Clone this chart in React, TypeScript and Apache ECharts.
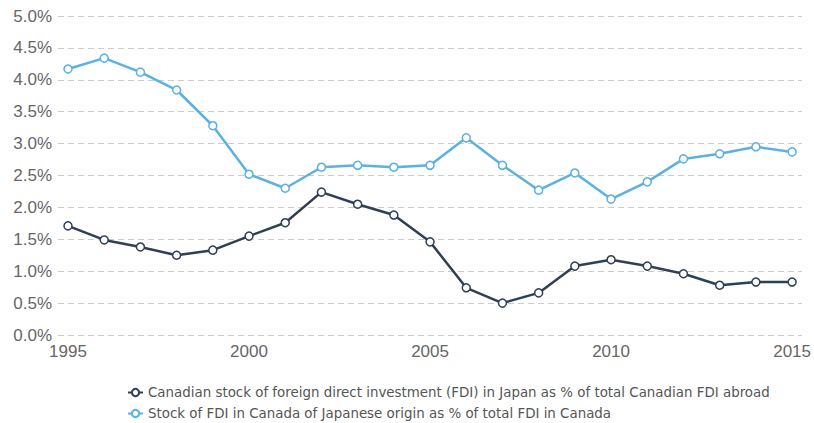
import React, { useEffect, useRef } from "react";
import * as echarts from "echarts";

const years = [1995, 1996, 1997, 1998, 1999, 2000, 2001, 2002, 2003, 2004, 2005, 2006, 2007, 2008, 2009, 2010, 2011, 2012, 2013, 2014, 2015];
const canadianInJapan = [1.71, 1.49, 1.38, 1.25, 1.33, 1.55, 1.76, 2.24, 2.05, 1.88, 1.46, 0.74, 0.5, 0.66, 1.08, 1.18, 1.08, 0.96, 0.78, 0.83, 0.83];
const japaneseInCanada = [4.17, 4.34, 4.12, 3.84, 3.28, 2.52, 2.3, 2.63, 2.66, 2.63, 2.66, 3.09, 2.66, 2.27, 2.54, 2.13, 2.4, 2.76, 2.84, 2.95, 2.87];
const seriesNames = [
  "Canadian stock of foreign direct investment (FDI) in Japan as % of total Canadian FDI abroad",
  "Stock of FDI in Canada of Japanese origin as % of total FDI in Canada",
];

export default function App() {
  const ref = useRef<HTMLDivElement>(null);
  useEffect(() => {
    if (!ref.current) return;
    const chart = echarts.init(ref.current, null, { renderer: "svg" });
    const mk = (name: string, vals: number[], color: string) => ({
      name,
      type: "line",
      xAxisIndex: 0,
      yAxisIndex: 0,
      data: years.map((y, i) => [y, vals[i]]),
      symbol: "circle",
      symbolSize: 8,
      lineStyle: { color, width: 2.5 },
      itemStyle: { color: "#ffffff", borderColor: color, borderWidth: 1.5 },
      emphasis: { disabled: true },
    });
    const labelFont = { color: "#666", fontSize: 17, fontFamily: "Liberation Sans" };
    const legendBase = {
      orient: "horizontal",
      left: 127,
      itemWidth: 15,
      itemHeight: 9,
      padding: 0,
      textStyle: { color: "#555", fontSize: 13.4, fontFamily: "DejaVu Sans" },
    };
    chart.setOption({
      animation: false,
      grid: [
        { left: 68, right: 18, top: 16, bottom: 88, containLabel: false },
        { left: 58, right: 12, top: 16, bottom: 88, containLabel: false },
      ],
      xAxis: [
        {
          type: "value",
          gridIndex: 0,
          min: 1995,
          max: 2015,
          interval: 5,
          axisLine: { show: false },
          axisTick: { show: false },
          splitLine: { show: false },
          axisLabel: { ...labelFont, margin: 8, formatter: (v: number) => String(v) },
        },
        { type: "value", gridIndex: 1, min: 0, max: 1, show: false },
      ],
      yAxis: [
        {
          type: "value",
          gridIndex: 0,
          min: 0,
          max: 5,
          interval: 0.5,
          show: false,
        },
        {
          type: "value",
          gridIndex: 1,
          min: 0,
          max: 5,
          interval: 0.5,
          axisLine: { show: false },
          axisTick: { show: false },
          splitLine: { show: true, lineStyle: { type: [6, 4], color: "#cccccc", width: 1 } },
          axisLabel: { ...labelFont, margin: 6, formatter: (v: number) => v.toFixed(1) + "%" },
        },
      ],
      legend: [
        { ...legendBase, top: 386, data: [seriesNames[0]] },
        { ...legendBase, top: 407, data: [seriesNames[1]] },
      ],
      series: [
        mk(seriesNames[0], canadianInJapan, "#2e3f56"),
        mk(seriesNames[1], japaneseInCanada, "#5bb1e2"),
      ],
    });
    return () => chart.dispose();
  }, []);
  return <div ref={ref} style={{ width: 814, height: 423, position: "absolute", left: 0, top: 0 }} />;
}
